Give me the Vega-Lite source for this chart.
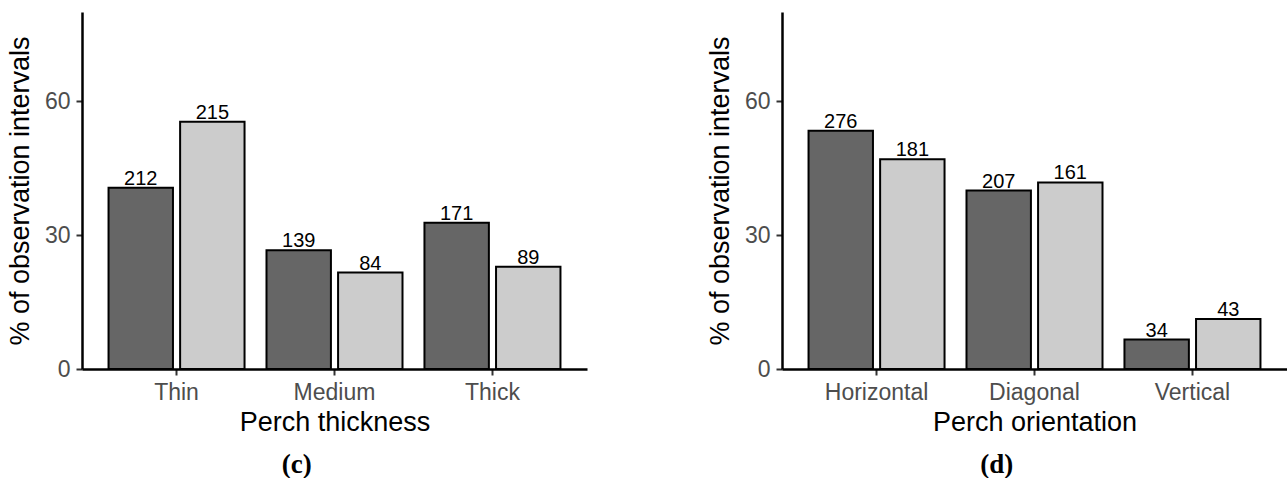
{
  "$schema": "https://vega.github.io/schema/vega-lite/v6.json",
  "padding": {"left": 6, "top": 12, "right": 0, "bottom": 0},
  "autosize": {"type": "pad"},
  "spacing": 119,
  "config": {
    "view": {"stroke": null},
    "font": "Liberation Sans",
    "axis": {
      "grid": false,
      "domainColor": "black",
      "domainWidth": 2.5,
      "tickColor": "#333333",
      "tickWidth": 2,
      "tickSize": 6,
      "labelColor": "#4d4d4d",
      "labelFontSize": 23,
      "labelFont": "Liberation Sans",
      "titleFont": "Liberation Sans",
      "titleFontSize": 27,
      "titleFontWeight": "normal",
      "titleColor": "black",
      "labelPadding": 6
    },
    "axisX": {"labelAngle": 0, "titlePadding": 5},
    "axisY": {"titlePadding": 10}
  },
  "hconcat": [
    {
      "title": {"text": "(c)", "orient": "bottom", "anchor": "middle", "frame": "bounds", "font": "Liberation Serif", "fontSize": 27, "fontWeight": "bold", "offset": 17, "color": "black"},
      "width": 505,
      "height": 357,
      "data": {"values": [
        {"category": "Thin", "group": "Group 1", "percent": 40.6, "count": 212},
        {"category": "Thin", "group": "Group 2", "percent": 55.4, "count": 215},
        {"category": "Medium", "group": "Group 1", "percent": 26.6, "count": 139},
        {"category": "Medium", "group": "Group 2", "percent": 21.6, "count": 84},
        {"category": "Thick", "group": "Group 1", "percent": 32.8, "count": 171},
        {"category": "Thick", "group": "Group 2", "percent": 22.9, "count": 89}
      ]},
      "encoding": {
        "x": {"field": "category", "type": "nominal", "sort": ["Thin", "Medium", "Thick"], "scale": {"paddingInner": 0.139, "paddingOuter": 0.168}, "axis": {"title": "Perch thickness"}},
        "xOffset": {"field": "group", "type": "nominal", "sort": ["Group 1", "Group 2"], "scale": {"paddingInner": 0.1, "paddingOuter": 0}},
        "y": {"field": "percent", "type": "quantitative", "scale": {"domain": [0, 80], "nice": false}, "axis": {"values": [0, 30, 60], "title": "% of observation intervals"}}
      },
      "layer": [
        {"mark": {"type": "bar", "stroke": "black", "strokeWidth": 2}, "encoding": {"color": {"field": "group", "type": "nominal", "scale": {"domain": ["Group 1", "Group 2"], "range": ["#666666", "#cccccc"]}, "legend": null}}},
        {"mark": {"type": "text", "baseline": "alphabetic", "dy": -3, "fontSize": 20, "color": "black"}, "encoding": {"text": {"field": "count", "type": "quantitative"}}}
      ]
    },
    {
      "title": {"text": "(d)", "orient": "bottom", "anchor": "middle", "frame": "bounds", "font": "Liberation Serif", "fontSize": 27, "fontWeight": "bold", "offset": 17, "color": "black"},
      "width": 505,
      "height": 357,
      "data": {"values": [
        {"category": "Horizontal", "group": "Group 1", "percent": 53.4, "count": 276},
        {"category": "Horizontal", "group": "Group 2", "percent": 47.0, "count": 181},
        {"category": "Diagonal", "group": "Group 1", "percent": 40.0, "count": 207},
        {"category": "Diagonal", "group": "Group 2", "percent": 41.8, "count": 161},
        {"category": "Vertical", "group": "Group 1", "percent": 6.6, "count": 34},
        {"category": "Vertical", "group": "Group 2", "percent": 11.2, "count": 43}
      ]},
      "encoding": {
        "x": {"field": "category", "type": "nominal", "sort": ["Horizontal", "Diagonal", "Vertical"], "scale": {"paddingInner": 0.139, "paddingOuter": 0.168}, "axis": {"title": "Perch orientation"}},
        "xOffset": {"field": "group", "type": "nominal", "sort": ["Group 1", "Group 2"], "scale": {"paddingInner": 0.1, "paddingOuter": 0}},
        "y": {"field": "percent", "type": "quantitative", "scale": {"domain": [0, 80], "nice": false}, "axis": {"values": [0, 30, 60], "title": "% of observation intervals"}}
      },
      "layer": [
        {"mark": {"type": "bar", "stroke": "black", "strokeWidth": 2}, "encoding": {"color": {"field": "group", "type": "nominal", "scale": {"domain": ["Group 1", "Group 2"], "range": ["#666666", "#cccccc"]}, "legend": null}}},
        {"mark": {"type": "text", "baseline": "alphabetic", "dy": -3, "fontSize": 20, "color": "black"}, "encoding": {"text": {"field": "count", "type": "quantitative"}}}
      ]
    }
  ]
}
